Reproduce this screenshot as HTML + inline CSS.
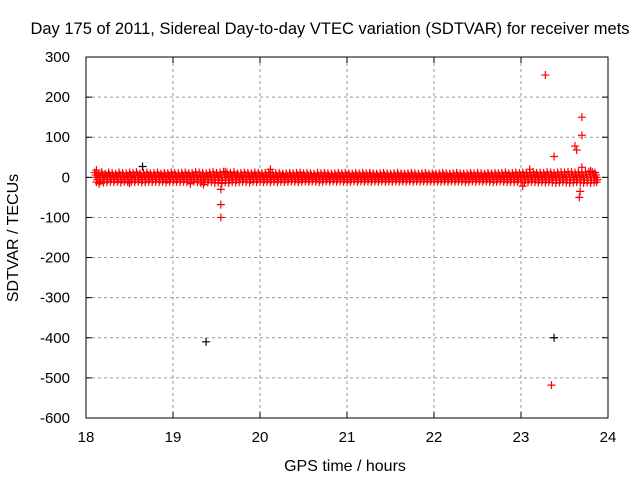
<!DOCTYPE html>
<html><head><meta charset="utf-8"><style>
body{margin:0;background:#fff}
svg{display:block;font-family:"Liberation Sans",sans-serif}
</style></head><body>
<svg id="c" width="640" height="480">
<text x="330" y="34" text-anchor="middle" font-size="16.5">Day 175 of 2011, Sidereal Day-to-day VTEC variation (SDTVAR) for receiver mets</text>
<text x="345" y="471" text-anchor="middle" font-size="16">GPS time / hours</text>
<text transform="translate(18,238) rotate(-90)" text-anchor="middle" font-size="16">SDTVAR / TECUs</text>
<g id="grid"></g><g id="marks"></g>
<rect x="86" y="57" width="522" height="361" fill="none" stroke="#000"/>
</svg>
<script>
const xTicks=[18,19,20,21,22,23,24];
const yTicks=[300,200,100,0,-100,-200,-300,-400,-500,-600];
const bandT=[18.10,18.14,18.18,18.22,18.26,18.30,18.34,18.38,18.42,18.46,18.50,18.54,18.58,18.62,18.66,18.70,18.74,18.78,18.82,18.86,18.90,18.94,18.98,19.02,19.06,19.10,19.14,19.18,19.22,19.26,19.30,19.34,19.38,19.42,19.46,19.50,19.54,19.58,19.62,19.66,19.70,19.74,19.78,19.82,19.86,19.90,19.94,19.98,20.02,20.06,20.10,20.14,20.18,20.22,20.26,20.30,20.34,20.38,20.42,20.46,20.50,20.54,20.58,20.62,20.66,20.70,20.74,20.78,20.82,20.86,20.90,20.94,20.98,21.02,21.06,21.10,21.14,21.18,21.22,21.26,21.30,21.34,21.38,21.42,21.46,21.50,21.54,21.58,21.62,21.66,21.70,21.74,21.78,21.82,21.86,21.90,21.94,21.98,22.02,22.06,22.10,22.14,22.18,22.22,22.26,22.30,22.34,22.38,22.42,22.46,22.50,22.54,22.58,22.62,22.66,22.70,22.74,22.78,22.82,22.86,22.90,22.94,22.98,23.02,23.06,23.10,23.14,23.18,23.22,23.26,23.30,23.34,23.38,23.42,23.46,23.50,23.54,23.58,23.62,23.66,23.70,23.74,23.78,23.82,23.85];
const bandHi=[12,10,13,9,12,11,9,12,11,10,12,11,13,10,11,12,10,11,12,9,11,10,12,11,10,11,12,10,11,13,12,11,10,12,13,11,12,14,12,11,13,10,11,12,11,10,12,11,10,11,12,11,10,11,9,10,11,10,11,12,10,11,10,9,11,10,11,10,9,10,11,10,11,10,9,11,10,11,10,11,10,9,10,11,10,9,10,11,10,9,10,11,10,9,10,11,9,10,9,10,11,10,9,10,11,10,9,10,11,10,11,10,9,11,10,11,10,11,12,10,11,12,11,12,11,12,13,11,12,11,13,12,11,12,13,12,14,13,12,13,12,13,14,13,12,12];
const bandLo=[-12,-11,-13,-12,-11,-12,-11,-13,-11,-12,-11,-12,-11,-13,-12,-11,-12,-11,-12,-11,-13,-11,-12,-11,-12,-11,-12,-13,-11,-12,-14,-12,-13,-12,-14,-13,-15,-13,-14,-12,-13,-12,-11,-12,-13,-11,-12,-11,-12,-11,-12,-11,-12,-11,-12,-11,-10,-11,-12,-11,-10,-11,-10,-11,-12,-11,-10,-11,-10,-11,-10,-11,-12,-11,-10,-11,-10,-11,-10,-11,-10,-11,-10,-11,-10,-11,-10,-11,-10,-11,-10,-11,-10,-11,-10,-11,-10,-11,-10,-11,-10,-11,-10,-11,-10,-11,-12,-11,-10,-11,-10,-11,-10,-11,-12,-11,-10,-11,-12,-11,-12,-11,-12,-13,-12,-11,-12,-13,-12,-13,-12,-13,-14,-13,-12,-13,-14,-13,-12,-13,-14,-13,-14,-13,-12,-11];
const redT=[18.12,18.15,18.5,19.2,19.35,19.55,19.55,19.55,20.12,19.6,23.02,23.28,23.38,23.62,23.64,23.70,23.70,23.70,23.68,23.67,23.35,23.1,23.8];
const redV=[18,-16,-14,-16,-18,-30,-68,-100,20,14,-22,255,52,78,68,150,105,25,-35,-50,-518,20,16];
const blackT=[18.65,19.38,23.38];
const blackV=[27,-410,-400];
const X=t=>86+(t-18)*87;
const Y=v=>57+(300-v)*361/900;
const NS='http://www.w3.org/2000/svg';
const grid=document.getElementById('grid'),marks=document.getElementById('marks');
function mk(tag,attrs,parent){const e=document.createElementNS(NS,tag);for(const k in attrs)e.setAttribute(k,attrs[k]);parent.appendChild(e);return e;}
xTicks.forEach(t=>{const x=X(t);
 if(t>18&&t<24){const l=mk('line',{x1:x,x2:x,y1:57,y2:418,stroke:'#999','stroke-dasharray':'3,3'},grid);
 
 }
 mk('line',{x1:x,x2:x,y1:418,y2:412,stroke:'#000'},grid);mk('line',{x1:x,x2:x,y1:57,y2:63,stroke:'#000'},grid);
 const tx=mk('text',{x:x,y:442,'text-anchor':'middle','font-size':15},grid);tx.textContent=t;
 
 });
yTicks.forEach(v=>{const y=Y(v);
 if(v<300&&v>-600){const l=mk('line',{x1:86,x2:608,y1:y,y2:y,stroke:'#999','stroke-dasharray':'3,3'},grid);
 
 }
 mk('line',{x1:86,x2:92,y1:y,y2:y,stroke:'#000'},grid);mk('line',{x1:602,x2:608,y1:y,y2:y,stroke:'#000'},grid);
 const tx=mk('text',{x:70,y:y+5,'text-anchor':'end','font-size':15},grid);tx.textContent=v;
 
 });
function plus(t,v,c,name){const x=X(t),y=Y(v);
 const p=mk('path',{d:`M${x-4} ${y}H${x+4}M${x} ${y-4}V${y+4}`,stroke:c,'stroke-width':1.2,fill:'none'},marks);
 
 }
bandT.forEach((t,i)=>{
 plus(t,bandHi[i],'#f00','band-point');
 plus(t+0.02,bandLo[i],'#f00','band-point');
 plus(t+0.01,bandHi[i]/2,'#f00','band-point');
 plus(t+0.03,bandLo[i]/2,'#f00','band-point');
 plus(t+0.02,0,'#f00','band-point');});
redT.forEach((t,i)=>plus(t,redV[i],'#f00','red-outlier'));
blackT.forEach((t,i)=>plus(t,blackV[i],'#000','black-outlier'));
</script>
</body></html>
